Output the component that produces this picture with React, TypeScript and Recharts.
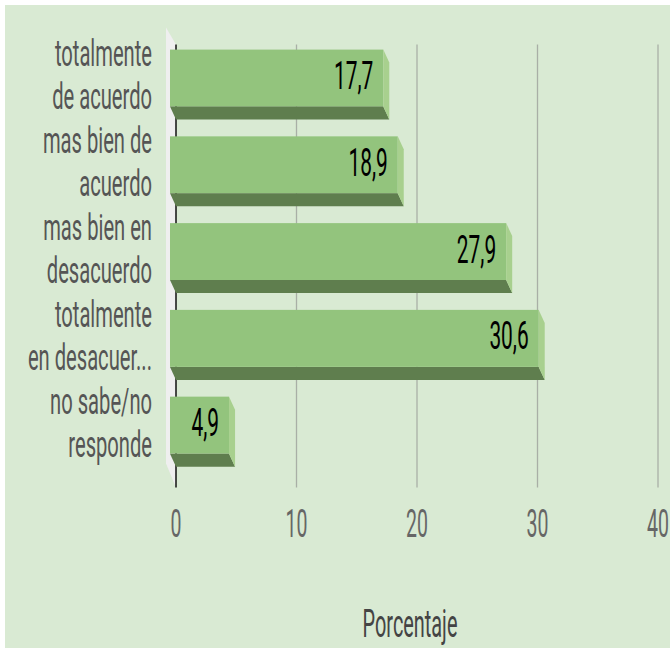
import { BarChart, Bar, XAxis, YAxis, CartesianGrid, LabelList, Label } from "recharts";

const categoryLines = [
  ["totalmente", "de acuerdo"],
  ["mas bien de", "acuerdo"],
  ["mas bien en", "desacuerdo"],
  ["totalmente", "en desacuer..."],
  ["no sabe/no", "responde"],
];
const categories = [
  "totalmente de acuerdo",
  "mas bien de acuerdo",
  "mas bien en desacuerdo",
  "totalmente en desacuerdo",
  "no sabe/no responde",
];
const values = [17.7, 18.9, 27.9, 30.6, 4.9];
const xTicks = [0, 10, 20, 30, 40];

const BG = "#d9ead3";
const FACE = "#93c47d";
const FACE_DARK = "#5f7e4e";
const FACE_SIDE = "#a8d08e";
const WALL = "#efefef";
const GRID = "#a9afa6";
const FONT = "Roboto, 'Noto Sans', sans-serif";

// 3d offset of the bar box
const DX = 6;
const DY = 13;

const data = categories.map((name, i) => ({ name, value: values[i], lines: categoryLines[i] }));

function Bar3D(props: any) {
  const { x, y, width, height } = props;
  const fh = height - DY;
  const x0 = x - DX;
  const x1 = x + width - DX;
  const yb = y + fh;
  return (
    <g>
      <rect x={x0} y={y} width={width} height={fh} fill={FACE} />
      <polygon
        points={`${x0},${yb} ${x1},${yb} ${x1 + DX},${yb + DY} ${x0 + DX},${yb + DY}`}
        fill={FACE_DARK}
      />
      <polygon
        points={`${x1},${y} ${x1 + DX},${y + DY} ${x1 + DX},${yb + DY} ${x1},${yb}`}
        fill={FACE_SIDE}
      />
    </g>
  );
}

function GridLine(props: any) {
  const { x1, y1, y2, index } = props;
  if (index === 0) {
    return (
      <g>
        <polygon
          points={`${x1 - 10},${y1 - 14} ${x1},${y1 + 3} ${x1},${y2 + 12} ${x1 - 10},${y2 - 12}`}
          fill={WALL}
        />
        <line x1={x1} x2={x1} y1={y1 + 3} y2={y2 + 12} stroke="#111" strokeWidth={1.5} />
      </g>
    );
  }
  return <line x1={x1} x2={x1} y1={y1 + 3} y2={y2 + 12} stroke={GRID} strokeWidth={1.3} />;
}

function CategoryTick(props: any) {
  const { x, y, index } = props;
  const lines = categoryLines[index] || [];
  return (
    <g transform={`translate(${x - 24},${y})`}>
      <g transform="scale(0.56,1)">
        <text textAnchor="end" fontFamily={FONT} fontSize={36} fill="#555">
          <tspan x={0} y={-18.5}>{lines[0]}</tspan>
          <tspan x={0} y={24.5}>{lines[1]}</tspan>
        </text>
      </g>
    </g>
  );
}

function ValueTick(props: any) {
  const { x, y, payload } = props;
  return (
    <g transform={`translate(${x},${y + 62})`}>
      <text transform="scale(0.5,1)" textAnchor="middle" fontFamily={FONT} fontSize={39} fill="#666">
        {payload.value}
      </text>
    </g>
  );
}

function ValueLabel(props: any) {
  const { x, y, width, height, value } = props;
  const fh = height - DY;
  return (
    <g transform={`translate(${x + width - DX - 10},${y + fh / 2 + 11})`}>
      <text transform="scale(0.55,1)" textAnchor="end" fontFamily={FONT} fontSize={38} fill="#000">
        {String(value).replace(".", ",")}
      </text>
    </g>
  );
}

function AxisTitle(props: any) {
  const { viewBox } = props;
  const cx = viewBox.x + viewBox.width / 2 - 7;
  return (
    <g transform={`translate(${cx},637)`}>
      <text transform="scale(0.51,1)" textAnchor="middle" fontFamily={FONT} fontSize={39} fill="#444">
        Porcentaje
      </text>
    </g>
  );
}

export default function App() {
  return (
    <div style={{ position: "absolute", left: 0, top: 0, width: 670, height: 648, background: "#fff" }}>
      <div style={{ position: "absolute", left: 5, top: 5, right: 0, bottom: 0, background: BG }} />
      <div style={{ position: "absolute", left: 0, top: 0 }}>
        <BarChart
          width={670}
          height={648}
          data={data}
          layout="vertical"
          margin={{ top: 41.6, right: 12, left: 0, bottom: 0 }}
          barSize={70}
        >
          <CartesianGrid horizontal={false} vertical={GridLine} />
          <XAxis
            type="number"
            domain={[0, 40]}
            ticks={xTicks}
            height={172.6}
            axisLine={false}
            tickLine={false}
            tickSize={0}
            tickMargin={0}
            tick={ValueTick}
            interval={0}
          >
            <Label content={AxisTitle} />
          </XAxis>
          <YAxis
            type="category"
            dataKey="name"
            width={176}
            axisLine={false}
            tickLine={false}
            tickSize={0}
            tickMargin={0}
            tick={CategoryTick}
            interval={0}
          />
          <Bar dataKey="value" shape={Bar3D} isAnimationActive={false}>
            <LabelList dataKey="value" content={ValueLabel} />
          </Bar>
        </BarChart>
      </div>
    </div>
  );
}
